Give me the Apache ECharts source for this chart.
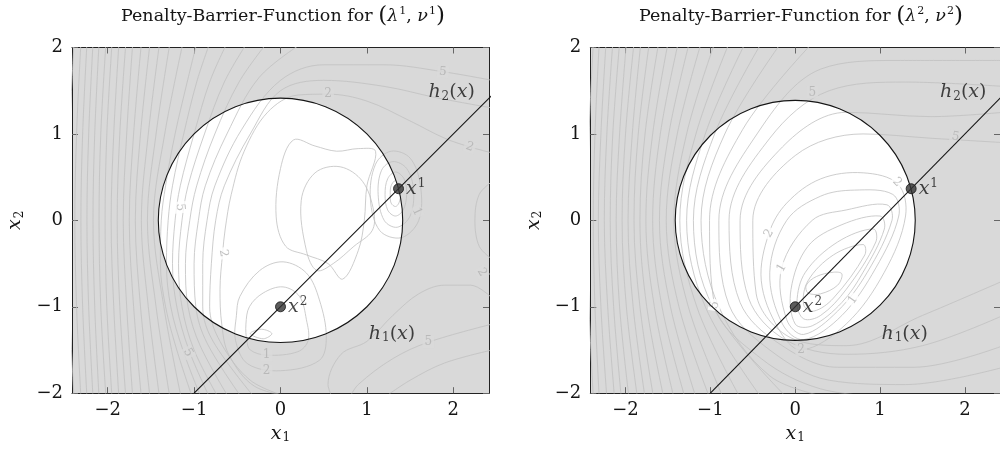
<!DOCTYPE html>
<html><head><meta charset="utf-8">
<script src="https://cdn.jsdelivr.net/npm/echarts@6/dist/echarts.min.js"></script>
<style>html,body{margin:0;padding:0;background:#fff}#chart{width:1000px;height:451px}</style>
</head><body><div id="chart"></div>
<script>
// ---- data -------------------------------------------------------------
const tickValues = [-2, -1, 0, 1, 2];
const feasibleDisk = [[0, 0, 1.4142]];                 // h1(x) <= 0 : x1^2 + x2^2 <= 2
const h2Line = [[-1, -2], [2.6, 1.6]];                 // h2(x) = 0 : x2 = x1 - 1
const kktPoints = [[1.366, 0.366], [0, -1]];
const kktNames = ['1', '2'];
const constraintLabels = [[1.98, 1.48, '2'], [1.29, -1.31, '1']];
const panelTitles = [['1', '1'], ['2', '2']];

// level curves, left panel (λ¹, ν¹)
const contoursA = [
  [[-2.39,2.05],[-2.44,1],[-2.45,0],[-2.44,-1],[-2.39,-2.05]],
  [[-2.31,2.05],[-2.36,1],[-2.38,0],[-2.36,-1],[-2.31,-2.05]],
  [[-2.24,2.05],[-2.29,1],[-2.31,0],[-2.29,-1],[-2.24,-2.05]],
  [[-2.17,2.05],[-2.22,1],[-2.24,0],[-2.22,-1],[-2.17,-2.05]],
  [[-2.10,2.05],[-2.15,1],[-2.17,0],[-2.15,-1],[-2.10,-2.05]],
  [[-2.02,2.05],[-2.08,1],[-2.10,0],[-2.08,-1],[-2.02,-2.05]],
  [[-1.95,2.05],[-2.01,1],[-2.03,0],[-2.01,-1],[-1.95,-2.05]],
  [[-1.87,2.05],[-1.93,1],[-1.96,0],[-1.93,-1],[-1.87,-2.05]],
  [[-1.79,2.05],[-1.86,1],[-1.89,0],[-1.86,-1],[-1.79,-2.05]],
  [[-1.71,2.05],[-1.78,1],[-1.82,0],[-1.78,-1],[-1.71,-2.05]],
  [[-1.61,2.05],[-1.70,1],[-1.75,0],[-1.70,-1],[-1.61,-2.05]],
  [[-1.51,2.05],[-1.62,1],[-1.68,0],[-1.62,-1],[-1.51,-2.05]],
  [[-1.40,2.05],[-1.53,1],[-1.61,0],[-1.53,-1],[-1.40,-2.05]],
  [[-1.28,2.05],[-1.44,1],[-1.54,0],[-1.44,-1],[-1.28,-2.05]],
  [[-1.13,2.05],[-1.34,1],[-1.47,0],[-1.35,-1],[-1.15,-2.05]],
  [[-0.97,2.05],[-1.08,1.6],[-1.22,1.0],[-1.33,0.4],[-1.38,0],[-1.39,-0.5],[-1.33,-1.0],[-1.2,-1.5],[-1.02,-2.05]],
  [[-0.82,2.05],[-0.97,1.6],[-1.12,1.0],[-1.25,0.4],[-1.30,0],[-1.32,-0.5],[-1.27,-1.0],[-1.13,-1.5],[-0.92,-2.05]],
  [[-0.62,2.05],[-0.82,1.6],[-1.0,1.0],[-1.16,0.4],[-1.22,0],[-1.25,-0.5],[-1.2,-1.0],[-1.06,-1.5],[-0.82,-2.05]],
  [[-0.39,2.05],[-0.65,1.6],[-0.88,1.0],[-1.07,0.4],[-1.14,0],[-1.18,-0.5],[-1.14,-1.0],[-1.0,-1.5],[-0.72,-2.05]],
  [[-0.16,2.05],[-0.48,1.6],[-0.76,1.0],[-0.97,0.4],[-1.05,0],[-1.1,-0.5],[-1.07,-1.0],[-0.93,-1.45],[-0.6,-2.05]],
  [[0.25,2.05],[-0.25,1.65],[-0.62,1.0],[-0.87,0.4],[-0.95,0],[-1.0,-0.5],[-0.98,-1.0],[-0.85,-1.42],[-0.45,-2.05]],
  [[2.45,1.62],[1.88,1.72],[1.2,1.8],[0.5,1.8],[0.0,1.62],[-0.45,1.05],[-0.76,0.4],[-0.85,0],[-0.9,-0.5],[-0.9,-1.0],[-0.78,-1.4],[-0.3,-2.05]],
  [[2.45,1.3],[1.8,1.42],[1.2,1.55],[0.5,1.62],[0.0,1.5],[-0.35,1.0],[-0.65,0.4],[-0.75,0],[-0.8,-0.5],[-0.82,-1.0],[-0.7,-1.4],[-0.35,-1.85],[0.1,-2.05]],
  [[2.45,0.78],[2.19,0.85],[1.9,0.95],[1.5,1.15],[1.0,1.38],[0.55,1.46],[0.2,1.45],[-0.15,1.25],[-0.42,0.8],[-0.57,0.3],[-0.64,-0.1],[-0.67,-0.38],[-0.7,-0.8],[-0.68,-1.2],[-0.6,-1.55],[-0.3,-1.92],[0.2,-2.05]],
  [[-0.39,-1.39],[-0.4,-1.2],[-0.36,-1.0],[-0.2,-0.84],[0.03,-0.77],[0.22,-0.88],[0.3,-1.15],[0.32,-1.39],[0.2,-1.52],[-0.16,-1.56],[-0.35,-1.5],[-0.39,-1.39]],
  [[-0.52,-1.39],[-0.51,-1.1],[-0.47,-0.88],[-0.24,-0.58],[0.03,-0.48],[0.3,-0.61],[0.45,-0.92],[0.53,-1.35],[0.45,-1.62],[0.0,-1.74],[-0.38,-1.66],[-0.52,-1.39]],
  [[-0.35,-1.31],[-0.22,-1.26],[-0.1,-1.31],[-0.2,-1.37],[-0.35,-1.31]],
  [[0.24,0.23],[0.4,0.55],[0.69,0.62],[0.95,0.45],[1.08,0.1],[1.06,-0.12],[0.85,-0.3],[0.61,-0.5],[0.42,-0.58],[0.3,-0.35],[0.24,0.23]],
  [[0.15,0.93],[0.4,0.86],[0.65,0.8],[0.9,0.83],[1.1,0.8],[1.0,0.4],[0.97,0.0],[0.9,-0.35],[0.72,-0.68],[0.55,-0.5],[0.3,-0.4],[0.06,-0.3],[-0.05,0.04],[0.0,0.6],[0.15,0.93]],
  [[1.33,0.46],[1.38,0.4],[1.39,0.3],[1.37,0.2],[1.33,0.16],[1.28,0.2],[1.27,0.3],[1.28,0.4],[1.33,0.46]],
  [[1.33,0.56],[1.43,0.48],[1.46,0.3],[1.42,0.12],[1.33,0.05],[1.24,0.12],[1.21,0.3],[1.24,0.48],[1.33,0.56]],
  [[1.3,0.68],[1.46,0.6],[1.54,0.35],[1.5,0.05],[1.35,-0.08],[1.2,0.0],[1.13,0.3],[1.17,0.58],[1.3,0.68]],
  [[1.28,0.8],[1.5,0.72],[1.62,0.4],[1.6,0.0],[1.4,-0.2],[1.15,-0.12],[1.04,0.25],[1.1,0.65],[1.28,0.8]],
  [[2.45,0.45],[2.3,0.3],[2.25,0.0],[2.3,-0.3],[2.45,-0.45]],
  [[2.45,-0.9],[2.2,-0.75],[1.9,-0.75],[1.6,-0.85],[1.3,-1.1],[1.0,-1.4],[0.7,-1.55],[0.55,-1.9],[0.6,-2.05]],
  [[2.45,-1.2],[1.71,-1.41],[1.3,-1.6],[0.9,-1.9],[0.8,-2.05]],
  [[2.45,-1.5],[1.9,-1.65],[1.5,-1.85],[1.2,-2.05]]
];
const labelsA = [[1.88,1.72,'5'],[0.55,1.46,'2'],[2.19,0.85,'2'],[1.58,0.1,'1'],[2.33,-0.6,'2'],
  [-1.16,0.15,'5'],[-0.66,-0.38,'2'],[-1.07,-1.53,'5'],[-0.16,-1.56,'1'],[-0.16,-1.74,'2'],[1.71,-1.41,'5']];
const labelAnglesA = [-5, 0, -20, -65, -60, -85, -80, -60, 0, 0, 0];

// level curves, right panel (λ², ν²)
const contoursB = [
  [[-2.38,2.05],[-2.43,1],[-2.45,0],[-2.43,-1],[-2.38,-2.05]],
  [[-2.31,2.05],[-2.36,1],[-2.38,0],[-2.36,-1],[-2.31,-2.05]],
  [[-2.23,2.05],[-2.29,1],[-2.32,0],[-2.29,-1],[-2.22,-2.05]],
  [[-2.15,2.05],[-2.22,1],[-2.25,0],[-2.21,-1],[-2.13,-2.05]],
  [[-2.07,2.05],[-2.15,1],[-2.18,0],[-2.14,-1],[-2.05,-2.05]],
  [[-1.99,2.05],[-2.07,1],[-2.11,0],[-2.07,-1],[-1.96,-2.05]],
  [[-1.90,2.05],[-2.00,1],[-2.04,0],[-1.99,-1],[-1.86,-2.05]],
  [[-1.82,2.05],[-1.92,1],[-1.97,0],[-1.91,-1],[-1.77,-2.05]],
  [[-1.72,2.05],[-1.85,1],[-1.90,0],[-1.83,-1],[-1.67,-2.05]],
  [[-1.61,2.05],[-1.77,1],[-1.83,0],[-1.75,-1],[-1.55,-2.05]],
  [[-1.50,2.05],[-1.68,1],[-1.76,0],[-1.66,-1],[-1.43,-2.05]],
  [[-1.38,2.05],[-1.59,1],[-1.68,0],[-1.57,-1],[-1.30,-2.05]],
  [[-1.25,2.05],[-1.49,1],[-1.60,0],[-1.47,-1],[-1.17,-2.05]],
  [[-1.11,2.05],[-1.39,1],[-1.52,0],[-1.37,-1],[-1.01,-2.05]],
  [[-0.95,2.05],[-1.28,1],[-1.43,0],[-1.26,-1],[-0.85,-2.05]],
  [[-0.78,2.05],[-1.17,1],[-1.36,0],[-1.16,-1],[-0.65,-2.05]],
  [[-0.59,2.05],[-1.06,1],[-1.28,0],[-1.06,-1],[-0.4,-2.05]],
  [[-0.40,2.05],[-0.95,1],[-1.20,0],[-0.97,-1],[-0.1,-2.05]],
  [[-0.17,2.05],[-0.83,1],[-1.11,0],[-0.9,-1],[-0.3,-1.8],[0.4,-2.05]],
  [[0.2,2.05],[-0.62,1.05],[-1.01,0],[-0.95,-0.98],[-0.4,-1.6],[0.3,-1.95],[1.2,-2.05]],
  [[2.45,1.85],[1.2,1.85],[0.3,1.75],[-0.45,1.0],[-0.9,0],[-0.78,-0.98],[-0.3,-1.5],[0.4,-1.85],[1.3,-1.9],[2.45,-1.7]],
  [[2.45,1.55],[1.3,1.6],[0.4,1.5],[-0.3,0.95],[-0.78,0],[-0.65,-0.95],[-0.2,-1.42],[0.5,-1.7],[1.4,-1.7],[2.45,-1.45]],
  [[2.45,1.25],[1.6,1.2],[0.6,1.25],[-0.15,0.85],[-0.65,0],[-0.55,-0.9],[-0.12,-1.38],[0.6,-1.55],[1.5,-1.45],[2.45,-1.1]],
  [[2.45,0.9],[1.6,0.95],[0.8,1.0],[0.0,0.75],[-0.5,0],[-0.46,-0.85],[-0.05,-1.36],[0.6,-1.45],[1.5,-1.1],[2.45,-0.7]],
  [[1.21,0.42],[0.8,0.55],[0.3,0.48],[-0.1,0.2],[-0.31,-0.15],[-0.4,-0.7],[-0.2,-1.25],[0.07,-1.5],[0.6,-1.2],[1.05,-0.6],[1.3,0.05],[1.21,0.42]],
  [[1.15,0.3],[0.7,0.35],[0.3,0.28],[-0.1,0.0],[-0.3,-0.6],[-0.15,-1.2],[0.1,-1.38],[0.55,-1.1],[0.95,-0.55],[1.22,0.05],[1.15,0.3]],
  [[1.08,0.18],[0.6,0.12],[0.2,0.0],[-0.16,-0.55],[-0.1,-1.15],[0.1,-1.32],[0.5,-1.05],[0.85,-0.6],[1.14,0.0],[1.08,0.18]],
  [[1.0,0.05],[0.55,-0.05],[0.15,-0.3],[-0.05,-0.8],[0.0,-1.2],[0.2,-1.22],[0.55,-0.95],[0.8,-0.6],[1.05,-0.1],[1.0,0.05]],
  [[0.92,-0.1],[0.5,-0.25],[0.12,-0.6],[0.02,-0.95],[0.1,-1.14],[0.3,-1.1],[0.6,-0.8],[0.95,-0.25],[0.92,-0.1]],
  [[0.8,-0.28],[0.45,-0.4],[0.15,-0.7],[0.1,-0.98],[0.22,-1.05],[0.45,-0.9],[0.82,-0.4],[0.8,-0.28]],
  [[0.55,-0.62],[0.45,-0.6],[0.25,-0.65],[0.13,-0.75],[0.15,-0.84],[0.3,-0.85],[0.5,-0.75],[0.55,-0.62]]
];
const labelsB = [[0.2,1.48,'5'],[1.89,0.97,'5'],[1.2,0.44,'2'],[-0.31,-0.15,'2'],[-0.16,-0.55,'1'],
  [0.68,-0.92,'1'],[-0.95,-0.98,'5'],[0.07,-1.5,'2']];
const labelAnglesB = [0, -10, -45, 60, 60, 55, 80, 0];

// ---- drawing ----------------------------------------------------------
const SERIF = '"DejaVu Serif", serif';
const grids = [
  { left: 72, right: 511, top: 47.5, bottom: 57.8 },
  { left: 590.3, right: -7.5, top: 47.5, bottom: 57.8 }
];
const xRange = [[-2.413, 2.413], [-2.415, 2.413]];
const GRAY = '#d9d9d9';
const INK = '#151515';
const LEVEL_COLOR = '#c0c0c0';

const subRich = {
  i: { fontFamily: SERIF, fontStyle: 'italic', fontSize: 19, color: INK },
  s: { fontFamily: SERIF, fontSize: 12, color: INK, padding: [9, 0, 0, 1] },
  p: { fontFamily: SERIF, fontSize: 12, color: INK, padding: [0, 0, 9, 1] },
  n: { fontFamily: SERIF, fontSize: 19, color: INK }
};

function fmt(v) { return String(v).replace('-', '\u2212'); }
function isClosed(c) {
  const a = c[0], b = c[c.length - 1];
  return a[0] === b[0] && a[1] === b[1];
}

const xAxes = [], yAxes = [], series = [], titles = [];
[0, 1].forEach(function (g) {
  const ticks = {
    inside: true, length: 6, customValues: tickValues,
    lineStyle: { color: '#666', width: 1 }
  };
  const line = { show: true, onZero: false, lineStyle: { color: '#222', width: 1 } };
  xAxes.push({
    gridIndex: g, type: 'value', min: xRange[g][0], max: xRange[g][1], position: 'bottom',
    axisLine: line, axisTick: ticks, splitLine: { show: false },
    axisLabel: { customValues: tickValues, formatter: fmt, fontFamily: SERIF, fontSize: 18, color: INK, margin: 8 },
    name: '{i|x}{s|1}', nameLocation: 'middle', nameGap: 29,
    nameTextStyle: { rich: subRich }
  });
  xAxes.push({
    gridIndex: g, type: 'value', min: xRange[g][0], max: xRange[g][1], position: 'top',
    axisLine: line, axisTick: ticks, axisLabel: { show: false }, splitLine: { show: false }
  });
  yAxes.push({
    gridIndex: g, type: 'value', min: -2, max: 2, interval: 1, position: 'left',
    axisLine: line, axisTick: ticks, splitLine: { show: false },
    axisLabel: { customValues: tickValues, formatter: fmt, fontFamily: SERIF, fontSize: 18, color: INK, margin: 9 },
    name: '{i|x}{s|2}', nameLocation: 'middle', nameGap: 46, nameRotate: 90,
    nameTextStyle: { rich: subRich }
  });
  yAxes.push({
    gridIndex: g, type: 'value', min: -2, max: 2, interval: 1, position: 'right',
    axisLine: line, axisTick: ticks, axisLabel: { show: false }, splitLine: { show: false }
  });

  const xi = g * 2, yi = g * 2;
  const contours = g === 0 ? contoursA : contoursB;
  const labels = g === 0 ? labelsA : labelsB;
  const angles = g === 0 ? labelAnglesA : labelAnglesB;

  // feasible region (white disk)
  series.push({
    type: 'custom', xAxisIndex: xi, yAxisIndex: yi, z: 1, silent: true,
    data: feasibleDisk,
    renderItem: function (params, api) {
      const c = api.coord([api.value(0), api.value(1)]);
      const r = api.size([api.value(2), 0])[0];
      return { type: 'circle', shape: { cx: c[0], cy: c[1], r: r }, style: { fill: '#fff' } };
    }
  });
  // open level curves
  contours.filter(function (c) { return !isClosed(c); }).forEach(function (c) {
    series.push({
      type: 'line', xAxisIndex: xi, yAxisIndex: yi, z: 2, silent: true,
      data: c, smooth: 0.35, symbol: 'none',
      lineStyle: { color: LEVEL_COLOR, width: 0.8 }
    });
  });
  // closed level curves (smooth closed loops)
  const loops = contours.filter(isClosed);
  series.push({
    type: 'custom', xAxisIndex: xi, yAxisIndex: yi, z: 2, silent: true,
    data: loops.map(function (c, k) { return [c[0][0], c[0][1], k]; }),
    renderItem: function (params, api) {
      const loop = loops[api.value(2)];
      const pts = loop.slice(0, loop.length - 1).map(function (p) { return api.coord(p); });
      return {
        type: 'polygon', shape: { points: pts, smooth: 0.35 },
        style: { fill: 'none', stroke: LEVEL_COLOR, lineWidth: 0.8 }
      };
    }
  });
  // level labels
  series.push({
    type: 'scatter', xAxisIndex: xi, yAxisIndex: yi, z: 3, silent: true, symbolSize: 0,
    data: labels.map(function (l, k) {
      const inside = l[0] * l[0] + l[1] * l[1] < 2;
      return {
        value: [l[0], l[1]],
        label: {
          show: true, position: 'inside', formatter: l[2], rotate: angles[k],
          fontFamily: SERIF, fontSize: 12, color: '#b0b0b0',
          backgroundColor: inside ? '#fff' : GRAY, padding: [0, 2]
        }
      };
    })
  });
  // boundary of h1
  series.push({
    type: 'custom', xAxisIndex: xi, yAxisIndex: yi, z: 4, silent: true,
    data: feasibleDisk,
    renderItem: function (params, api) {
      const c = api.coord([api.value(0), api.value(1)]);
      const r = api.size([api.value(2), 0])[0];
      return { type: 'circle', shape: { cx: c[0], cy: c[1], r: r }, style: { fill: 'none', stroke: INK, lineWidth: 1.1 } };
    }
  });
  // h2 line
  series.push({
    type: 'line', xAxisIndex: xi, yAxisIndex: yi, z: 5, silent: true,
    data: h2Line, symbol: 'none', lineStyle: { color: INK, width: 1.1 }
  });
  // KKT points
  series.push({
    type: 'scatter', xAxisIndex: xi, yAxisIndex: yi, z: 6, silent: true,
    symbolSize: 10,
    itemStyle: { color: '#333', borderColor: INK, borderWidth: 1 },
    data: kktPoints.map(function (p, k) {
      return {
        value: p,
        label: { show: true, position: 'right', distance: 2, formatter: '{i|x}{p|' + kktNames[k] + '}', rich: subRich }
      };
    })
  });
  // constraint labels
  series.push({
    type: 'scatter', xAxisIndex: xi, yAxisIndex: yi, z: 6, silent: true, symbolSize: 0,
    data: constraintLabels.map(function (l) {
      return {
        value: [l[0], l[1]],
        label: { show: true, position: 'inside', formatter: '{i|h}{s|' + l[2] + '}{n|(}{i|x}{n|)}', rich: subRich }
      };
    })
  });

  titles.push({
    text: '{t|Penalty-Barrier-Function for }{b|(}{g|λ}{u|' + panelTitles[g][0] + '}{t|, }{g|ν}{u|' + panelTitles[g][1] + '}{b|)}',
    left: g === 0 ? 278 : 796, top: 0, textAlign: 'center',
    textStyle: {
      fontWeight: 'normal',
      rich: {
        t: { fontFamily: SERIF, fontWeight: 'normal', fontSize: 17.5, color: INK },
        b: { fontFamily: SERIF, fontWeight: 'normal', fontSize: 23, color: INK },
        g: { fontFamily: SERIF, fontWeight: 'normal', fontStyle: 'italic', fontSize: 17.5, color: INK },
        u: { fontFamily: SERIF, fontWeight: 'normal', fontSize: 11, color: INK, padding: [0, 0, 10, 1] }
      }
    }
  });
});

const chart = echarts.init(document.getElementById('chart'), null, { renderer: 'canvas' });
chart.setOption({
  animation: false,
  backgroundColor: '#fff',
  title: titles,
  grid: grids.map(function (g) { return Object.assign({ show: true, backgroundColor: GRAY, borderWidth: 0 }, g); }),
  xAxis: xAxes,
  yAxis: yAxes,
  series: series
});
</script>
</body></html>
